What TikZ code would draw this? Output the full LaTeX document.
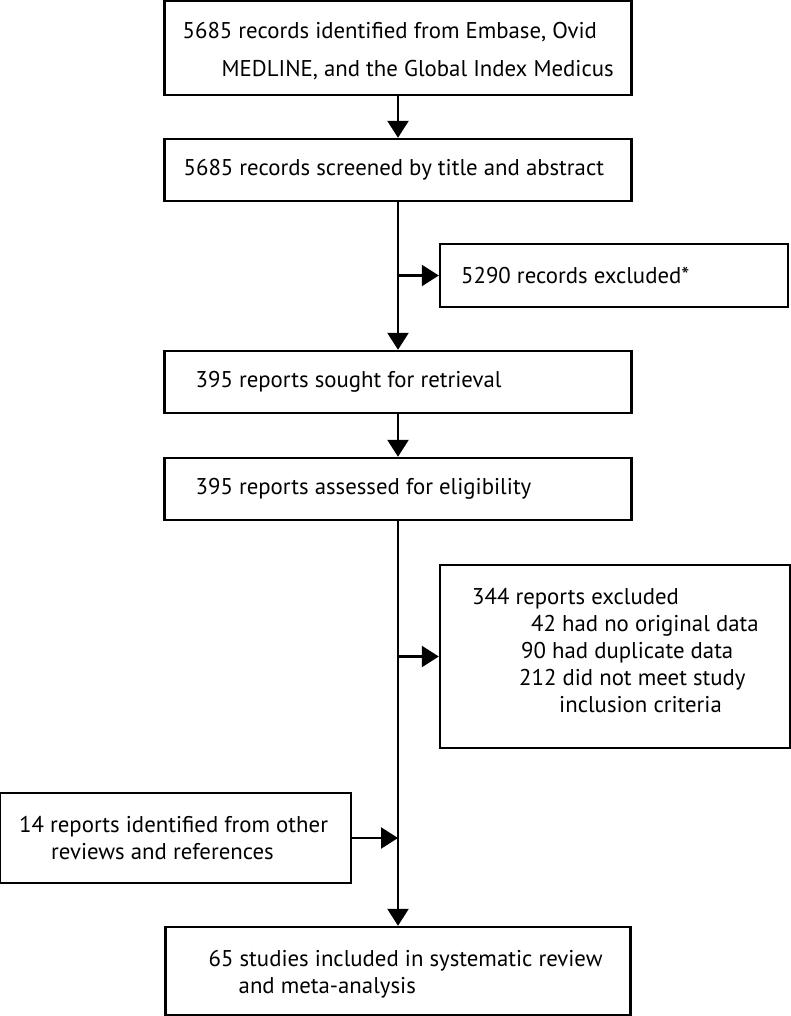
\documentclass[tikz,border=0pt]{standalone}
\usepackage{fontspec}
\setmainfont{PT Sans}
\usetikzlibrary{arrows.meta}
\tikzset{
  flowbox/.style={draw, line width=1.2pt, inner sep=0pt},
  flowtxt/.style={inner sep=0pt, align=left, anchor=west, font=\fontsize{11.4}{13.5}\selectfont},
  flowarr/.style={line width=1.2pt, -{Triangle[length=8.5pt,width=10.5pt]}}
}
\begin{document}
\begin{tikzpicture}[x=0.5pt,y=-0.5pt]
	\useasboundingbox (0,0) rectangle (791,1016);
	\node[flowbox, minimum width=233.5pt, minimum height=47pt] (ident) at (398,48) {};
	\node[flowtxt, font=\fontsize{11.4}{19}\selectfont] (identtxt) at ([xshift=9.5pt,yshift=-1.5pt]ident.west) {5685 records identified from Embase, Ovid\\\hspace*{19.5pt}MEDLINE, and the Global Index Medicus};
	\node[flowbox, minimum width=233.5pt, minimum height=31pt] (screen) at (398,170) {};
	\node[flowtxt] (screentxt) at ([xshift=10pt]screen.west) {5685 records screened by title and abstract};
	\node[flowbox, minimum width=174pt, minimum height=31.5pt] (excl1) at (614,275.5) {};
	\node[flowtxt] (excl1txt) at ([xshift=11pt]excl1.west) {5290 records excluded*};
	\node[flowbox, minimum width=233.5pt, minimum height=31pt] (sought) at (398,382) {};
	\node[flowtxt] (soughttxt) at ([xshift=16pt]sought.west) {395 reports sought for retrieval};
	\node[flowbox, minimum width=233.5pt, minimum height=31pt] (assess) at (398,489) {};
	\node[flowtxt] (assesstxt) at ([xshift=16pt]assess.west) {395 reports assessed for eligibility};
	\node[flowbox, minimum width=175pt, minimum height=91.5pt] (excl2) at (615,656.5) {};
	\node[flowtxt] (excl2txt) at ([xshift=16.5pt,yshift=3pt]excl2.west) {344 reports excluded\\\hspace*{29.5pt}42 had no original data\\\hspace*{24.5pt}90 had duplicate data\\\hspace*{23.5pt}212 did not meet study\\\hspace*{43.5pt}inclusion criteria};
	\node[flowbox, minimum width=175.5pt, minimum height=45pt] (other) at (175.5,838) {};
	\node[flowtxt] (othertxt) at ([xshift=10pt]other.west) {14 reports identified from other\\\hspace*{16pt}reviews and references};
	\node[flowbox, minimum width=232.5pt, minimum height=44pt] (final) at (398,971) {};
	\node[flowtxt] (finaltxt) at ([xshift=22pt,yshift=-1.5pt]final.west) {65 studies included in systematic review\\\hspace*{15pt}and meta-analysis};
	\coordinate (split1) at (screen.south |- excl1.west);
	\coordinate (split2) at (assess.south |- excl2.west);
	\coordinate (merge) at (assess.south |- other.east);
	\draw[flowarr] (ident) -- (screen);
	\draw[flowarr] (screen) -- (sought);
	\draw[flowarr] (split1) -- (excl1);
	\draw[flowarr] (sought) -- (assess);
	\draw[flowarr] (assess) -- (final);
	\draw[flowarr] (split2) -- (excl2);
	\draw[flowarr] (other) -- (merge);
\end{tikzpicture}
\end{document}
